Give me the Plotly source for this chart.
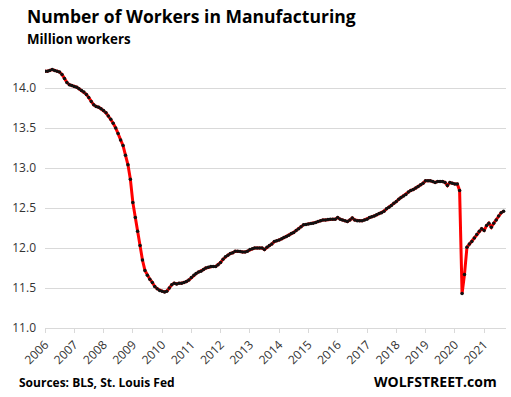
import plotly.graph_objects as go
import pandas as pd

# Monthly manufacturing employment, million workers, Jan 2006 - Sep 2021
v2006 = [14.21, 14.21, 14.22, 14.23, 14.22, 14.21, 14.20, 14.17, 14.12, 14.07, 14.04, 14.03]
v2007 = [14.02, 14.01, 13.99, 13.97, 13.95, 13.92, 13.88, 13.83, 13.79, 13.77, 13.76, 13.74]
v2008 = [13.72, 13.69, 13.65, 13.61, 13.56, 13.50, 13.43, 13.35, 13.28, 13.16, 13.04, 12.86]
v2009 = [12.57, 12.38, 12.21, 12.03, 11.85, 11.72, 11.66, 11.61, 11.57, 11.52, 11.49, 11.47]
v2010 = [11.46, 11.45, 11.46, 11.50, 11.54, 11.56, 11.55, 11.56, 11.56, 11.57, 11.58, 11.60]
v2011 = [11.63, 11.66, 11.68, 11.70, 11.71, 11.73, 11.75, 11.76, 11.77, 11.77, 11.77, 11.79]
v2012 = [11.82, 11.86, 11.89, 11.91, 11.93, 11.94, 11.96, 11.96, 11.955, 11.95, 11.95, 11.96]
v2013 = [11.98, 11.99, 12.00, 12.00, 12.00, 12.00, 11.98, 12.01, 12.03, 12.05, 12.08, 12.09]
v2014 = [12.10, 12.115, 12.13, 12.145, 12.16, 12.18, 12.195, 12.22, 12.24, 12.265, 12.29, 12.295]
v2015 = [12.30, 12.305, 12.31, 12.32, 12.33, 12.34, 12.35, 12.35, 12.355, 12.36, 12.36, 12.36]
v2016 = [12.38, 12.36, 12.35, 12.34, 12.33, 12.35, 12.375, 12.35, 12.34, 12.34, 12.34, 12.35]
v2017 = [12.36, 12.38, 12.39, 12.40, 12.415, 12.43, 12.44, 12.46, 12.49, 12.51, 12.53, 12.56]
v2018 = [12.58, 12.61, 12.63, 12.65, 12.67, 12.70, 12.72, 12.73, 12.75, 12.77, 12.79, 12.81]
v2019 = [12.84, 12.84, 12.84, 12.83, 12.82, 12.83, 12.83, 12.83, 12.82, 12.78, 12.82, 12.81]
v2020 = [12.80, 12.80, 12.72, 11.43, 11.67, 12.01, 12.05, 12.08, 12.125, 12.17, 12.21, 12.24]
v2021 = [12.22, 12.28, 12.31, 12.26, 12.31, 12.35, 12.40, 12.44, 12.46]

values = (v2006 + v2007 + v2008 + v2009 + v2010 + v2011 + v2012 + v2013 + v2014
          + v2015 + v2016 + v2017 + v2018 + v2019 + v2020 + v2021)
dates = pd.date_range("2006-01-01", periods=len(values), freq="MS")

year_ticks = [f"{y}-01-01" for y in range(2006, 2022)]
year_labels = [str(y) for y in range(2006, 2022)]
y_ticks = [11.0, 11.5, 12.0, 12.5, 13.0, 13.5, 14.0]

fig = go.Figure()
fig.add_trace(go.Scatter(
    x=dates, y=values, mode="lines+markers",
    line=dict(color="#ff0000", width=3),
    marker=dict(color="#111111", size=3.5),
    hoverinfo="x+y", showlegend=False,
))

fig.update_layout(
    width=511, height=397,
    margin=dict(l=45, r=5, t=64, b=69, autoexpand=False),
    paper_bgcolor="white", plot_bgcolor="white",
    font=dict(family="Open Sans, Noto Sans, sans-serif", color="#333333"),
    xaxis=dict(
        type="date", range=["2006-01-01", "2021-10-01"],
        tickvals=year_ticks, ticktext=year_labels, tickangle=-45,
        tickfont=dict(size=12, color="#333333"),
        showgrid=False, showline=True, linecolor="#d9d9d9", linewidth=1,
        ticks="outside", ticklen=4, tickcolor="#d9d9d9",
        zeroline=False,
    ),
    yaxis=dict(
        range=[11.0, 14.3], tickvals=y_ticks,
        ticktext=[f"{t:.1f}" for t in y_ticks],
        tickfont=dict(size=12, color="#333333"),
        showgrid=True, gridcolor="#d9d9d9", gridwidth=1,
        showline=False, zeroline=False, ticks="", ticklabelstandoff=8,
    ),
    annotations=[
        dict(text="<b>Number of Workers in Manufacturing</b>", xref="paper", yref="paper",
             x=-0.043, y=1.235, xanchor="left", yanchor="top", showarrow=False,
             font=dict(size=17.5, color="#000000", family="Open Sans, sans-serif")),
        dict(text="<b>Million workers</b>", xref="paper", yref="paper",
             x=-0.043, y=1.135, xanchor="left", yanchor="top", showarrow=False,
             font=dict(size=13.3, color="#000000", family="Open Sans, sans-serif")),
        dict(text="<b>Sources: BLS, St. Louis Fed</b>", xref="paper", yref="paper",
             x=-0.06, y=-0.165, xanchor="left", yanchor="top", showarrow=False,
             font=dict(size=12, color="#000000", family="Open Sans, sans-serif")),
        dict(text="<b>WOLFSTREET.com</b>", xref="paper", yref="paper",
             x=0.985, y=-0.16, xanchor="right", yanchor="top", showarrow=False,
             font=dict(size=14, color="#000000", family="Open Sans, sans-serif")),
    ],
)

fig.write_html(
    "out.html",
    config={"displayModeBar": False},
    post_script="document.body.style.margin='0';document.body.style.padding='0';",
)
